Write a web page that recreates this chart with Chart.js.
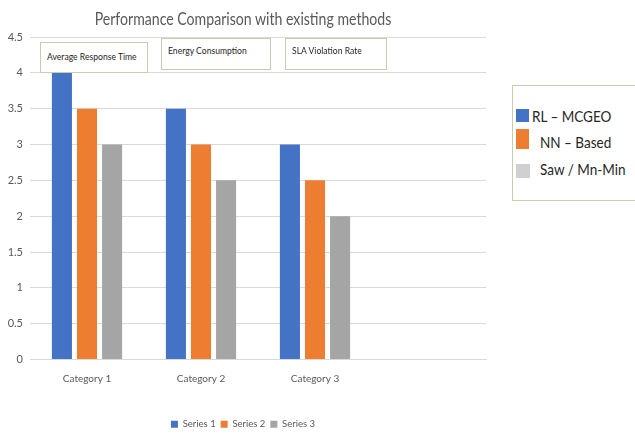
<!DOCTYPE html>
<html>
<head>
<meta charset="utf-8">
<script src="https://cdn.jsdelivr.net/npm/chart.js@4/dist/chart.umd.min.js"></script>
<style>
  html, body { margin: 0; padding: 0; background: #fff; }
  #wrap { position: relative; width: 635px; height: 434px; overflow: hidden; }
  canvas { position: absolute; left: 0; top: 0; }
  #title {
    position: absolute; left: 43px; width: 400px; top: 8px; text-align: center;
    font-family: Lato, "Liberation Sans", sans-serif; font-size: 17px; color: #595959;
    transform: scaleX(0.83); transform-origin: 200px 0; white-space: nowrap;
  }
  .note {
    position: absolute; box-sizing: border-box; background: #fff;
    border: 1px solid #c4cfae; font-family: Lato, "Liberation Sans", sans-serif;
    font-size: 10px; color: #262626; padding-left: 6px; white-space: nowrap;
  }
  .note span { display: inline-block; transform: scaleX(0.86); transform-origin: 0 0; }
  #methods {
    position: absolute; left: 512px; top: 85px; width: 140px; height: 116px;
    box-sizing: border-box; border: 1px solid #c4cfae; background: #fff;
    font-family: Lato, "Liberation Sans", sans-serif; color: #262626;
  }
  .m-sw { position: absolute; }
  .m-tx { position: absolute; font-size: 15px; line-height: 18px; white-space: nowrap;
          transform: scaleX(0.9); transform-origin: 0 0; }
</style>
</head>
<body>
<div id="wrap">
  <canvas id="chart" width="635" height="439"></canvas>
  <div id="title"></div>
  <div id="notes"></div>
  <div id="methods"></div>
</div>
<script>
// Chart data
const categories = ["Category 1", "Category 2", "Category 3", ""];
const seriesNames = ["Series 1", "Series 2", "Series 3"];
const methodNames = ["RL \u2013 MCGEO", "NN \u2013 Based", "Saw / Mn-Min"];
const series1 = [4, 3.5, 3, null];
const series2 = [3.5, 3, 2.5, null];
const series3 = [3, 2.5, 2, null];
const yTicks = [0, 0.5, 1, 1.5, 2, 2.5, 3, 3.5, 4, 4.5];
const metricLabels = ["Average Response Time", "Energy Consumption", "SLA Violation Rate"];
const titleText = "Performance Comparison with existing methods";

const colors = ["#4472c4", "#ed7d31", "#a5a5a5"];
const methodSwatch = ["#4472c4", "#ed7d31", "#d0d0d0"];

const FONT = "Lato, 'Liberation Sans', sans-serif";

document.getElementById("title").textContent = titleText;

new Chart(document.getElementById("chart"), {
  type: "bar",
  data: {
    labels: categories,
    datasets: [series1, series2, series3].map((d, i) => ({
      label: seriesNames[i],
      data: d,
      backgroundColor: colors[i],
      borderWidth: 0,
      categoryPercentage: 0.66,
      barPercentage: 0.8
    }))
  },
  options: {
    responsive: false,
    animation: false,
    layout: { padding: { left: 0, right: 149, top: 37, bottom: 0 } },
    plugins: {
      title: { display: false },
      legend: {
        position: "bottom",
        labels: {
          boxWidth: 7, boxHeight: 7, padding: 5,
          color: "#595959",
          font: { family: FONT, size: 9.5 }
        }
      },
      tooltip: { enabled: false }
    },
    scales: {
      x: {
        grid: { display: false },
        border: { display: true, color: "#d9d9d9" },
        ticks: { color: "#595959", font: { family: FONT, size: 10 }, padding: 5 },
        afterFit: (s) => { s.height = 55; }
      },
      y: {
        min: yTicks[0], max: yTicks[yTicks.length - 1],
        grid: { color: "#d9d9d9", drawTicks: false },
        border: { display: false },
        afterBuildTicks: (s) => { s.ticks = yTicks.map(v => ({ value: v })); },
        afterFit: (s) => { s.width = 30; },
        ticks: {
          color: "#595959", font: { family: FONT, size: 11 }, padding: 7,
          callback: (v) => String(v)
        }
      }
    }
  }
});

// Metric notes drawn as boxes over the plot
const notePos = [
  { l: 40, t: 42, w: 108, h: 31, ty: 7 },
  { l: 161, t: 38, w: 110, h: 32, ty: 5 },
  { l: 285, t: 38, w: 102, h: 32, ty: 5 }
];
const notes = document.getElementById("notes");
metricLabels.forEach((txt, i) => {
  const p = notePos[i];
  const d = document.createElement("div");
  d.className = "note";
  d.style.left = p.l + "px"; d.style.top = p.t + "px";
  d.style.width = p.w + "px"; d.style.height = p.h + "px";
  d.style.paddingTop = p.ty + "px";
  const s = document.createElement("span");
  s.textContent = txt;
  d.appendChild(s);
  notes.appendChild(d);
});

// Method key on the right
const methods = document.getElementById("methods");
const mRows = [
  { sw: { l: 3, t: 23, w: 13, h: 13 }, tx: { l: 19, cy: 30 } },
  { sw: { l: 3, t: 43, w: 13, h: 20 }, tx: { l: 27, cy: 56 } },
  { sw: { l: 3, t: 78, w: 14, h: 14 }, tx: { l: 27, cy: 83 } }
];
methodNames.forEach((name, i) => {
  const r = mRows[i];
  const sw = document.createElement("div");
  sw.className = "m-sw";
  sw.style.left = r.sw.l + "px"; sw.style.top = r.sw.t + "px";
  sw.style.width = r.sw.w + "px"; sw.style.height = r.sw.h + "px";
  sw.style.background = methodSwatch[i];
  const tx = document.createElement("div");
  tx.className = "m-tx";
  tx.style.left = r.tx.l + "px"; tx.style.top = (r.tx.cy - 9) + "px";
  tx.textContent = name;
  methods.appendChild(sw); methods.appendChild(tx);
});
</script>
</body>
</html>
